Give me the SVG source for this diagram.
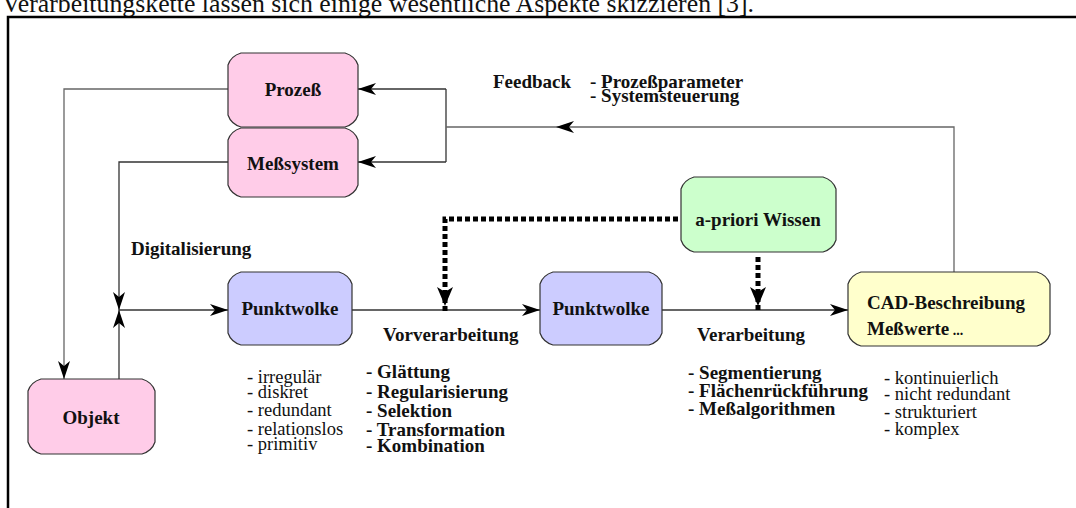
<svg xmlns="http://www.w3.org/2000/svg" width="1076" height="508" viewBox="0 0 1076 508">
<style>
  text { font-family: "Liberation Serif", "Times New Roman", serif; fill: #111; }
  .b { font-weight: bold; font-size: 19px; }
  .lbl { font-weight: bold; font-size: 19px; text-anchor: middle; }
  .r { font-size: 18.5px; }
  .box { stroke: #333; stroke-width: 1.2; stroke-linejoin: round; }
  .pink { fill: #ffcce8; }
  .blue { fill: #ccccff; }
  .green { fill: #ccffcc; }
  .yellow { fill: #ffffcc; }
  .ln { fill: none; stroke: #333; stroke-width: 1.3; }
  .gr { fill: none; stroke: #666; stroke-width: 1.3; }
  .dot { fill: none; stroke: #000; stroke-width: 5; stroke-dasharray: 5 3; }
  .head { fill: #000; }
</style>
<defs>
  <marker id="ah" markerWidth="18" markerHeight="12" refX="18" refY="6" orient="auto" markerUnits="userSpaceOnUse">
    <path d="M0,0 L18,6 L0,12 L5,6 Z" fill="#000"/>
  </marker>
</defs>

<text x="2" y="12" style="font-size:26px" textLength="752" lengthAdjust="spacingAndGlyphs">Verarbeitungskette lassen sich einige wesentliche Aspekte skizzieren [3].</text>
<path d="M8,508 V17 H1076" fill="none" stroke="#000" stroke-width="2.5"/>

<g id="connectors">
  <polyline class="gr" points="228,89 64,89 64,379" marker-end="url(#ah)"/>
  <polyline class="ln" points="228,162 119,162 119,310" marker-end="url(#ah)"/>
  <polyline class="ln" points="119,379 119,310" marker-end="url(#ah)"/>
  <polyline class="ln" points="119,310 228,310" marker-end="url(#ah)"/>
  <polyline class="ln" points="352,310 540,310" marker-end="url(#ah)"/>
  <polyline class="ln" points="662,310 848,310" marker-end="url(#ah)"/>
  <polyline class="ln" points="446,89 358,89" marker-end="url(#ah)"/>
  <polyline class="ln" points="446,162 358,162" marker-end="url(#ah)"/>
  <polyline class="ln" points="446,89 446,162"/>
  <polyline class="gr" points="954,272 954,127 446,127"/>
  <path class="head" d="M556,127 L574,121 L569,127 L574,133 Z"/>
  <polyline class="dot" points="686,219 445,219 445,313"/>
  <path class="head" d="M445,306 L437,287 L445,292 L453,287 Z"/>
  <polyline class="dot" points="758,257 758,313"/>
  <path class="head" d="M758,306 L750,287 L758,292 L766,287 Z"/>
</g>

<g id="prozess">
  <path class="box pink" d="M241,53 H345 Q355,56 358,65 V115 Q355,124 345,127 H241 Q231,124 228,115 V65 Q231,56 241,53 Z"/>
  <text class="lbl" x="293" y="96">Prozeß</text>
</g>
<g id="messsystem">
  <path class="box pink" d="M241,128 H345 Q355,131 358,140 V185 Q355,194 345,197 H241 Q231,194 228,185 V140 Q231,131 241,128 Z"/>
  <text class="lbl" x="293" y="170">Meßsystem</text>
</g>
<g id="objekt">
  <path class="box pink" d="M41,379 H142 Q152,382 155,391 V442 Q152,451 142,454 H41 Q31,451 28,442 V391 Q31,382 41,379 Z"/>
  <text class="lbl" x="91" y="424">Objekt</text>
</g>
<g id="punktwolke1">
  <path class="box blue" d="M241,272 H339 Q349,275 352,284 V333 Q349,342 339,345 H241 Q231,342 228,333 V284 Q231,275 241,272 Z"/>
  <text class="lbl" x="290" y="315">Punktwolke</text>
</g>
<g id="punktwolke2">
  <path class="box blue" d="M553,272 H649 Q659,275 662,284 V333 Q659,342 649,345 H553 Q543,342 540,333 V284 Q543,275 553,272 Z"/>
  <text class="lbl" x="601" y="315">Punktwolke</text>
</g>
<g id="apriori">
  <path class="box green" d="M694,177 H823 Q833,180 836,189 V240 Q833,249 823,252 H694 Q684,249 681,240 V189 Q684,180 694,177 Z"/>
  <text class="lbl" x="758" y="226">a-priori Wissen</text>
</g>
<g id="cad">
  <path class="box yellow" d="M861,272 H1037 Q1047,275 1050,284 V334 Q1047,343 1037,346 H861 Q851,343 848,334 V284 Q851,275 861,272 Z"/>
  <text class="b" x="867" y="309">CAD-Beschreibung</text>
  <text class="b" x="867" y="335">Meßwerte<tspan style="font-size:14px"> ...</tspan></text>
</g>

<g id="labels">
  <text class="b" x="493" y="88">Feedback</text>
  <text class="b" x="590" y="88">- Prozeßparameter</text>
  <text class="b" x="590" y="102">- Systemsteuerung</text>
  <text class="b" x="131" y="255">Digitalisierung</text>
  <text class="b" x="383" y="341">Vorverarbeitung</text>
  <text class="b" x="697" y="341">Verarbeitung</text>
</g>

<g id="lists">
  <text class="r" x="247" y="383">- irregulär</text>
  <text class="r" x="247" y="398">- diskret</text>
  <text class="r" x="247" y="416">- redundant</text>
  <text class="r" x="247" y="435">- relationslos</text>
  <text class="r" x="247" y="450">- primitiv</text>
  <text class="b" x="366" y="378">- Glättung</text>
  <text class="b" x="366" y="398">- Regularisierung</text>
  <text class="b" x="366" y="417">- Selektion</text>
  <text class="b" x="366" y="436">- Transformation</text>
  <text class="b" x="366" y="452">- Kombination</text>
  <text class="b" x="688" y="379">- Segmentierung</text>
  <text class="b" x="688" y="397">- Flächenrückführung</text>
  <text class="b" x="688" y="415">- Meßalgorithmen</text>
  <text class="r" x="884" y="384">- kontinuierlich</text>
  <text class="r" x="884" y="400">- nicht redundant</text>
  <text class="r" x="884" y="418">- strukturiert</text>
  <text class="r" x="884" y="435">- komplex</text>
</g>
</svg>
